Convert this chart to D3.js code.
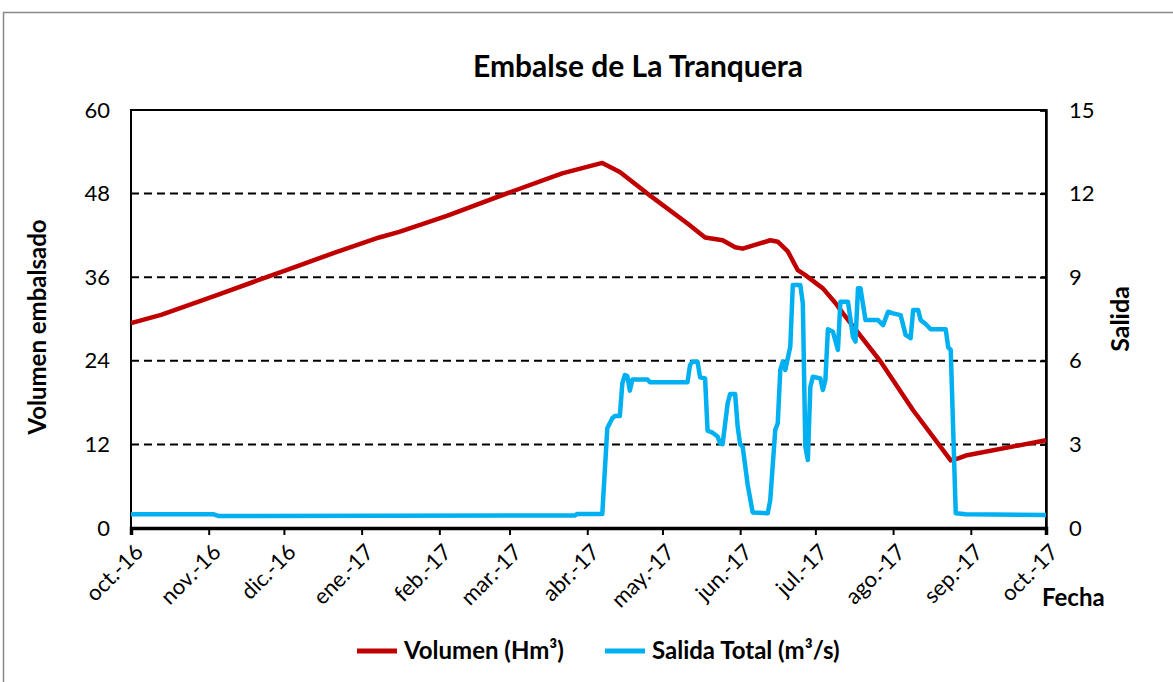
<!DOCTYPE html>
<html>
<head>
<meta charset="utf-8">
<script src="https://cdn.jsdelivr.net/npm/d3@7"></script>
<style>
  body { margin: 0; background: #fff; }
  svg { display: block; font-family: Lato, "Open Sans", sans-serif; }
</style>
</head>
<body>
<div id="chart"></div>
<script>
// Volumen embalsado (Hm³), left axis
const volFechas = [
  "2016-10-01", "2016-10-13", "2016-11-04", "2016-11-21", "2016-12-02", "2016-12-21",
  "2017-01-08", "2017-01-16", "2017-02-04", "2017-03-02", "2017-03-22", "2017-04-07",
  "2017-04-14", "2017-04-25", "2017-05-11", "2017-05-18", "2017-05-25", "2017-05-30",
  "2017-06-02", "2017-06-13", "2017-06-16", "2017-06-20", "2017-06-24", "2017-06-27",
  "2017-07-04", "2017-07-09", "2017-07-12", "2017-07-27", "2017-08-09", "2017-08-24",
  "2017-08-27", "2017-08-30", "2017-10-01"
];
const volumen = [
  29.4, 30.6, 33.4, 35.6, 37.0, 39.5,
  41.7, 42.5, 44.8, 48.3, 50.9, 52.4,
  51.1, 48.0, 43.7, 41.7, 41.3, 40.3,
  40.1, 41.3, 41.1, 39.7, 37.0, 36.3,
  34.4, 32.3, 30.8, 23.9, 16.9, 9.7,
  10.0, 10.4, 12.6
];

// Salida total (m³/s), right axis
const salFechas = [
  "2016-10-01", "2016-11-03", "2016-11-05", "2017-03-27", "2017-03-28", "2017-04-07",
  "2017-04-09", "2017-04-11", "2017-04-12", "2017-04-14", "2017-04-15", "2017-04-16",
  "2017-04-17", "2017-04-18", "2017-04-19", "2017-04-25", "2017-04-26", "2017-05-11",
  "2017-05-12", "2017-05-13", "2017-05-15", "2017-05-16", "2017-05-18", "2017-05-19",
  "2017-05-21", "2017-05-23", "2017-05-24", "2017-05-25", "2017-05-27", "2017-05-28",
  "2017-05-30", "2017-05-31", "2017-06-01", "2017-06-02", "2017-06-04", "2017-06-06",
  "2017-06-12", "2017-06-13", "2017-06-15", "2017-06-16", "2017-06-17", "2017-06-18",
  "2017-06-19", "2017-06-21", "2017-06-22", "2017-06-25", "2017-06-26", "2017-06-27",
  "2017-06-28", "2017-06-29", "2017-06-30", "2017-07-03", "2017-07-04", "2017-07-05",
  "2017-07-06", "2017-07-08", "2017-07-10", "2017-07-11", "2017-07-14", "2017-07-16",
  "2017-07-17", "2017-07-18", "2017-07-19", "2017-07-21", "2017-07-26", "2017-07-28",
  "2017-07-30", "2017-08-01", "2017-08-04", "2017-08-06", "2017-08-08", "2017-08-09",
  "2017-08-11", "2017-08-12", "2017-08-14", "2017-08-16", "2017-08-22", "2017-08-23",
  "2017-08-24", "2017-08-26", "2017-08-30", "2017-10-01"
];
const salida = [
  0.49, 0.49, 0.43, 0.45, 0.50, 0.50,
  3.58, 3.94, 4.02, 4.02, 5.19, 5.49,
  5.45, 4.93, 5.33, 5.33, 5.23, 5.23,
  5.85, 5.97, 5.97, 5.41, 5.37, 3.49,
  3.42, 3.28, 3.04, 3.01, 4.47, 4.81,
  4.81, 3.64, 3.00, 2.92, 1.55, 0.56,
  0.53, 1.00, 3.52, 3.76, 5.67, 5.97,
  5.67, 6.51, 8.72, 8.72, 8.06, 2.92,
  2.44, 5.07, 5.43, 5.37, 4.95, 5.31,
  7.13, 7.04, 6.39, 8.12, 8.12, 6.86,
  6.69, 8.60, 8.60, 7.46, 7.46, 7.28,
  7.76, 7.70, 7.64, 6.93, 6.81, 7.82,
  7.82, 7.46, 7.32, 7.13, 7.13, 6.48,
  6.39, 0.53, 0.49, 0.47
];

const mesFechas = [
  "2016-10-01", "2016-11-01", "2016-12-01", "2017-01-01", "2017-02-01", "2017-03-01",
  "2017-04-01", "2017-05-01", "2017-06-01", "2017-07-01", "2017-08-01", "2017-09-01",
  "2017-10-01"
];
const mesEtiquetas = [
  "oct.-16", "nov.-16", "dic.-16", "ene.-17", "feb.-17", "mar.-17", "abr.-17",
  "may.-17", "jun.-17", "jul.-17", "ago.-17", "sep.-17", "oct.-17"
];
const ticksIzq = [0, 12, 24, 36, 48, 60];
const ticksDer = [0, 3, 6, 9, 12, 15];

const W = 1173, H = 682;
const plot = { left: 131, right: 1046, top: 110, bottom: 528 };
const parse = d3.timeParse("%Y-%m-%d");

const svg = d3.select("#chart").append("svg")
  .attr("width", W).attr("height", H);

// outer chart frame
svg.append("rect")
  .attr("x", 3.5).attr("y", 12.5)
  .attr("width", 1300).attr("height", 800)
  .attr("fill", "none").attr("stroke", "#888").attr("stroke-width", 1.5);

const x = d3.scaleTime()
  .domain([parse(mesFechas[0]), parse(mesFechas[mesFechas.length - 1])])
  .range([plot.left, plot.right]);
const yL = d3.scaleLinear().domain([0, 60]).range([plot.bottom, plot.top]);
const yR = d3.scaleLinear().domain([0, 15]).range([plot.bottom, plot.top]);

// dashed gridlines
svg.append("g")
  .selectAll("line")
  .data(ticksIzq.filter(v => v > 0 && v < 60))
  .join("line")
  .attr("x1", plot.left).attr("x2", plot.right)
  .attr("y1", d => yL(d)).attr("y2", d => yL(d))
  .attr("stroke", "#000").attr("stroke-width", 2)
  .attr("stroke-dasharray", "8,5");

// plot border
svg.append("rect")
  .attr("x", plot.left).attr("y", plot.top)
  .attr("width", plot.right - plot.left).attr("height", plot.bottom - plot.top)
  .attr("fill", "none").attr("stroke", "#000").attr("stroke-width", 2);

// left axis
const gL = svg.append("g")
  .attr("transform", `translate(${plot.left},0)`)
  .call(d3.axisLeft(yL).tickValues(ticksIzq).tickSize(0).tickPadding(21));
gL.select(".domain").remove();
gL.selectAll("text").attr("font-size", 22).attr("fill", "#000")
  .attr("font-family", "Lato, sans-serif");

// right axis
const gR = svg.append("g")
  .attr("transform", `translate(${plot.right},0)`)
  .call(d3.axisRight(yR).tickValues(ticksDer).tickSize(-6).tickPadding(23));
gR.select(".domain").attr("stroke-width", 2.5);
gR.selectAll("line").attr("stroke-width", 2);
gR.selectAll("text").attr("font-size", 22).attr("fill", "#000")
  .attr("font-family", "Lato, sans-serif");

// bottom axis
const gB = svg.append("g")
  .attr("transform", `translate(0,${plot.bottom})`)
  .call(d3.axisBottom(x).tickValues(mesFechas.map(parse)).tickSize(7).tickFormat(""));
gB.select(".domain").attr("stroke-width", 3.5);
gB.selectAll("line").attr("stroke-width", 2);

svg.append("g")
  .selectAll("text")
  .data(mesFechas)
  .join("text")
  .attr("transform", d => `translate(${x(parse(d)) + 8},${plot.bottom + 20}) rotate(-45)`)
  .attr("text-anchor", "end")
  .attr("dy", "0.35em")
  .attr("font-size", 22)
  .text((d, i) => mesEtiquetas[i]);

// lines
const lineVol = d3.line()
  .x((d, i) => x(parse(volFechas[i])))
  .y(d => yL(d));
const lineSal = d3.line()
  .x((d, i) => x(parse(salFechas[i])))
  .y(d => yR(d));

svg.append("path")
  .datum(volumen)
  .attr("d", lineVol)
  .attr("fill", "none").attr("stroke", "#C00000")
  .attr("stroke-width", 4.5).attr("stroke-linejoin", "round");

svg.append("path")
  .datum(salida)
  .attr("d", lineSal)
  .attr("fill", "none").attr("stroke", "#00B0F0")
  .attr("stroke-width", 4.5).attr("stroke-linejoin", "round");

// titles
svg.append("text")
  .attr("x", 638).attr("y", 77)
  .attr("text-anchor", "middle")
  .attr("font-size", 30).attr("font-weight", "bold")
  .text("Embalse de La Tranquera");

svg.append("text")
  .attr("transform", `translate(46,${(plot.top + plot.bottom) / 2 + 8}) rotate(-90)`)
  .attr("text-anchor", "middle")
  .attr("font-size", 24).attr("font-weight", "bold")
  .text("Volumen embalsado");

svg.append("text")
  .attr("transform", `translate(1129,${(plot.top + plot.bottom) / 2}) rotate(-90)`)
  .attr("text-anchor", "middle")
  .attr("font-size", 25).attr("font-weight", "bold")
  .text("Salida");

svg.append("text")
  .attr("x", 1042).attr("y", 606)
  .attr("font-size", 24).attr("font-weight", "bold")
  .text("Fecha");

// legend
const legend = [
  { label: "Volumen (Hm³)", color: "#C00000", x: 357 },
  { label: "Salida Total (m³/s)", color: "#00B0F0", x: 605 }
];
const lg = svg.append("g").selectAll("g").data(legend).join("g")
  .attr("transform", d => `translate(${d.x},651)`);
lg.append("line")
  .attr("x1", 0).attr("x2", 40)
  .attr("stroke", d => d.color).attr("stroke-width", 5);
lg.append("text")
  .attr("x", 47).attr("dy", "0.35em")
  .attr("font-size", 24).attr("font-weight", "bold")
  .text(d => d.label);
</script>
</body>
</html>
